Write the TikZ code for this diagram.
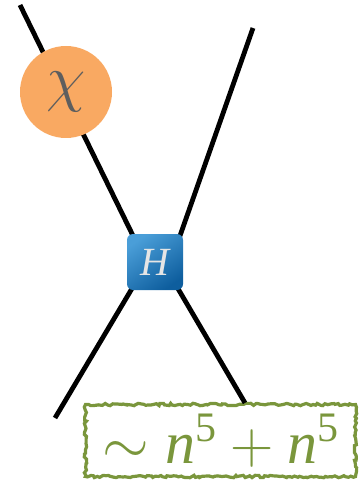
\RequirePackage{fix-cm}
\documentclass[tikz,border=0pt]{standalone}
\usepackage{fontspec}
\setmainfont{Liberation Serif}
\usepackage{xcolor}
\usetikzlibrary{decorations.pathmorphing}
\definecolor{chiorange}{HTML}{F9A962}
\definecolor{chigray}{HTML}{5E5E5E}
\definecolor{vtxlight}{HTML}{4A9ED8}
\definecolor{vtxdark}{HTML}{0E5E9E}
\definecolor{estgreen}{HTML}{7A963C}

\begin{document}
\begin{tikzpicture}[
  x=1pt, y=-1pt,
  leg/.style={line width=4.8pt},
  blob/.style={circle, fill=chiorange, minimum size=92pt, inner sep=0pt,
    text=chigray, font=\fontsize{64}{66}\selectfont},
  vtx/.style={rounded corners=6pt, minimum size=56pt, inner sep=0pt,
    top color=vtxlight, bottom color=vtxdark, shading angle=35,
    text=black!10, font=\fontsize{40}{42}\selectfont},
  est/.style={draw=estgreen, line width=3.2pt, decorate,
    decoration={random steps, segment length=2.5pt, amplitude=1.2pt},
    minimum width=270pt, minimum height=72pt, inner sep=0pt,
    text=estgreen, font=\fontsize{60}{62}\selectfont}
]
\useasboundingbox (0,0) rectangle (361,481);
% external legs
\coordinate (ul) at (20,5);
\coordinate (ur) at (253,28);
\coordinate (ll) at (55,418);
\coordinate (hul) at (140,250);
\coordinate (hur) at (175,250);
\coordinate (hll) at (140,275);
\coordinate (hlr) at (170,275);
\node[est] (n5) at (220.5,440.5) {$\sim \mathit{n}^{\mathrm{5}} + \mathit{n}^{\mathrm{5}}$};
\draw[leg] (ul) -- (hul);
\draw[leg] (ur) -- (hur);
\draw[leg] (ll) -- (hll);
\draw[leg] (hlr) -- (n5.north -| 245,0);
% insertion and vertex
\node[blob] (chi) at (66,92) {$\chi$};
\node[vtx] (H) at (155,262) {$\mathit{H}$};
\end{tikzpicture}
\end{document}
